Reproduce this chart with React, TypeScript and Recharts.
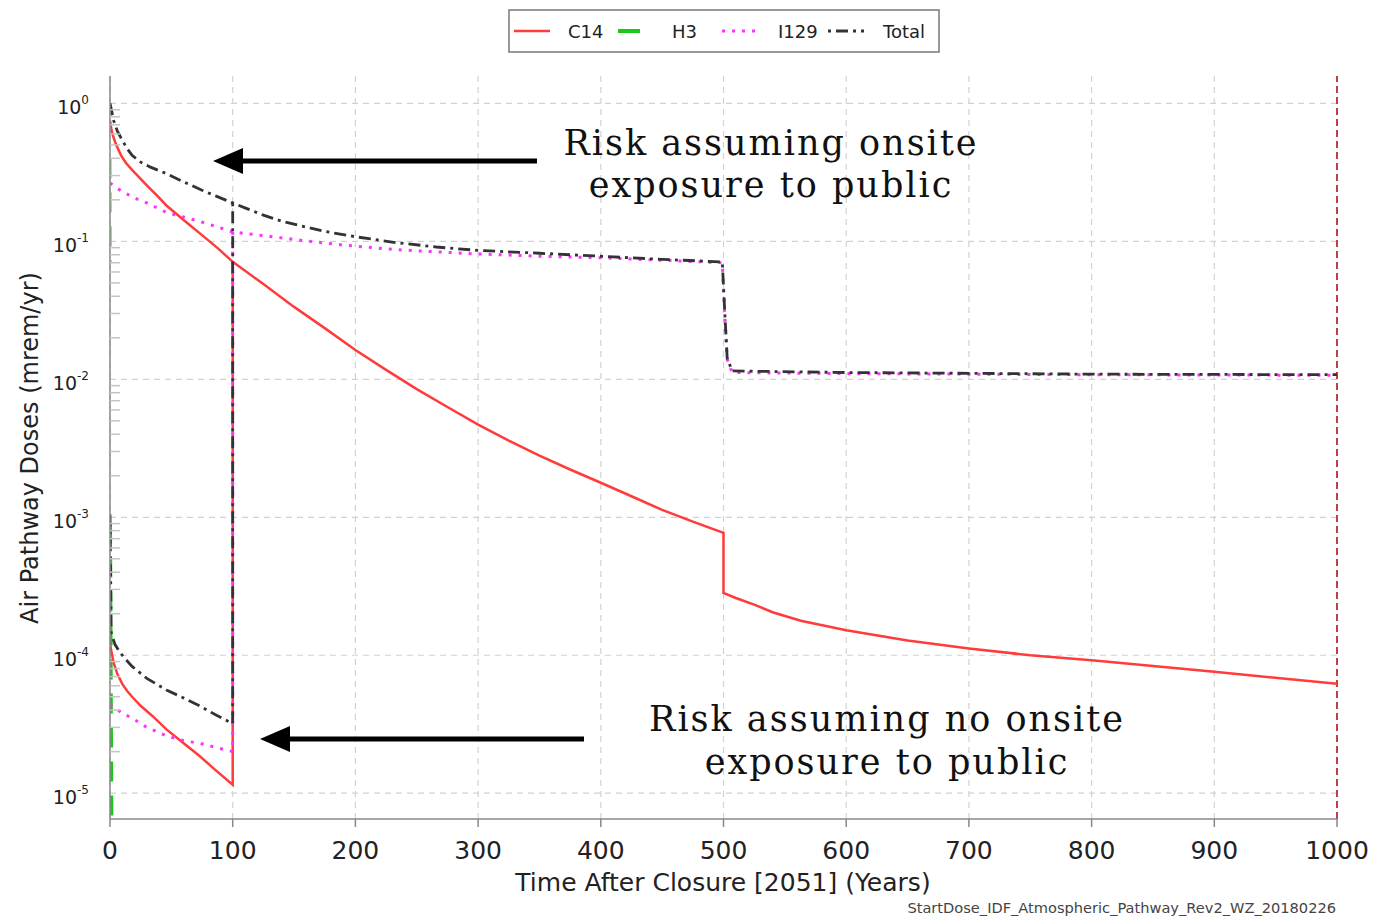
import React from "react";
import { LineChart, Line, XAxis, YAxis, CartesianGrid, ReferenceLine } from "recharts";

const SANS = "'DejaVu Sans', 'Liberation Sans', Arial, sans-serif";
const SERIF = "'DejaVu Serif', 'Liberation Serif', serif";

const xTicks = [0, 100, 200, 300, 400, 500, 600, 700, 800, 900, 1000];
const yMajor = [1e-5, 1e-4, 1e-3, 1e-2, 1e-1, 1];
const yExponents = ["-5", "-4", "-3", "-2", "-1", "0"];
const yMinorSteps = [2, 3, 4, 5, 6, 7, 8, 9];

// onsite exposure (upper family of curves)
const c14OnYears = [0, 1, 2, 4, 6, 9, 13, 18, 24, 30, 38, 46, 60, 75, 88, 100, 125, 150, 175, 200, 225, 250, 275, 300, 325, 350, 375, 400, 425, 450, 475, 500, 500, 510, 525, 540, 563, 600, 650, 700, 750, 800, 900, 1000];
const c14OnDose = [0.75, 0.66, 0.6, 0.53, 0.48, 0.42, 0.37, 0.33, 0.29, 0.255, 0.216, 0.182, 0.143, 0.111, 0.089, 0.071, 0.049, 0.0335, 0.0235, 0.0163, 0.0117, 0.0085, 0.0063, 0.0047, 0.0036, 0.0028, 0.00222, 0.00178, 0.00142, 0.00113, 0.00093, 0.00077, 0.000283, 0.00026, 0.000233, 0.000205, 0.000178, 0.000152, 0.000128, 0.000112, 0.0001, 0.000092, 0.000076, 0.000062];

const i129OnYears = [0, 5, 10, 20, 30, 46, 60, 75, 88, 100, 125, 155, 190, 233, 266, 300, 350, 400, 450, 499, 501, 503, 507, 600, 800, 1000];
const i129OnDose = [0.265, 0.245, 0.23, 0.206, 0.19, 0.162, 0.15, 0.138, 0.127, 0.117, 0.11, 0.102, 0.094, 0.087, 0.084, 0.081, 0.078, 0.076, 0.073, 0.07, 0.03, 0.014, 0.0112, 0.011, 0.0108, 0.0107];

const totalOnYears = [0, 3, 6, 10, 14, 18, 25, 33, 46, 60, 75, 88, 100, 110, 125, 140, 155, 175, 200, 233, 266, 300, 350, 400, 450, 499, 501, 503, 507, 600, 800, 1000];
const totalOnDose = [1.0, 0.75, 0.63, 0.54, 0.47, 0.42, 0.375, 0.345, 0.31, 0.27, 0.235, 0.21, 0.19, 0.175, 0.155, 0.14, 0.13, 0.118, 0.108, 0.098, 0.091, 0.086, 0.082, 0.078, 0.074, 0.071, 0.031, 0.0143, 0.0115, 0.0112, 0.0109, 0.0108];

const h3OnYears = [0, 0.3];
const h3OnDose = [0.4, 0.07];

// no onsite exposure (lower family, joins the upper curves at year 100)
const c14OffYears = [0, 3, 6, 10, 14, 18, 25, 35, 46, 60, 73, 86, 100, 100];
const c14OffDose = [0.00012, 0.000088, 0.000073, 0.000062, 0.000055, 0.00005, 0.000043, 0.000036, 0.000029, 0.000023, 0.0000186, 0.0000147, 0.0000115, 0.071];

const i129OffYears = [0, 5, 10, 18, 30, 46, 60, 73, 86, 100, 100];
const i129OffDose = [0.000044, 0.000041, 0.000038, 0.000035, 0.00003, 0.000026, 0.000024, 0.000023, 0.0000215, 0.00002, 0.117];

const totalOffYears = [0, 1, 4, 8, 12, 18, 30, 46, 60, 73, 86, 100, 100];
const totalOffDose = [0.00105, 0.000145, 0.00012, 0.000105, 0.000095, 0.000083, 0.000068, 0.000056, 0.000049, 0.000043, 0.000037, 0.000032, 0.19];

const h3OffYears = [0, 1.5];
const h3OffDose = [0.0009, 0.000001];

const pts = (years: number[], dose: number[]) => years.map((t, i) => ({ t, v: dose[i] }));

const C14 = "#ff3b3b";
const H3 = "#19c919";
const I129 = "#ff33ff";
const TOTAL = "#333333";

const series = [
  { id: "h3-on", data: pts(h3OnYears, h3OnDose), color: "#8fe08f", width: 3.5, dash: "20 14" },
  { id: "h3-off", data: pts(h3OffYears, h3OffDose), color: H3, width: 4, dash: "20 14" },
  { id: "c14-on", data: pts(c14OnYears, c14OnDose), color: C14, width: 2.5, dash: undefined },
  { id: "c14-off", data: pts(c14OffYears, c14OffDose), color: C14, width: 2.5, dash: undefined },
  { id: "i129-on", data: pts(i129OnYears, i129OnDose), color: I129, width: 3, dash: "3 7" },
  { id: "i129-off", data: pts(i129OffYears, i129OffDose), color: I129, width: 3, dash: "3 7" },
  { id: "total-on", data: pts(totalOnYears, totalOnDose), color: TOTAL, width: 2.8, dash: "12 5 3 5" },
  { id: "total-off", data: pts(totalOffYears, totalOffDose), color: TOTAL, width: 2.8, dash: "12 5 3 5" },
];

const yTicks = [...yMajor, ...yMajor.slice(0, 5).flatMap((d) => yMinorSteps.map((s) => d * s))].sort((a, b) => a - b);

const legendItems = [
  { label: "C14", color: C14, dash: undefined, width: 2.5, lineX: 6, textX: 60 },
  { label: "H3", color: H3, dash: undefined, width: 4, lineX: 110, textX: 164 },
  { label: "I129", color: I129, dash: "3 7", width: 3, lineX: 214, textX: 270 },
  { label: "Total", color: TOTAL, dash: "3 5 12 5", width: 2.8, lineX: 320, textX: 375 },
];

function YTick(props: any) {
  const { x, y, payload } = props;
  const idx = yMajor.indexOf(payload.value);
  if (idx < 0) {
    return <line x1={x + 10} x2={x + 20} y1={y} y2={y} stroke="#c4c4c4" strokeWidth={1.5} />;
  }
  return (
    <text x={x - 11} y={y + 11} textAnchor="end" fontFamily={SANS} fontSize={19} fill="#222">
      10
      <tspan dy={-10} fontSize={12}>
        {yExponents[idx]}
      </tspan>
    </text>
  );
}

function Legend() {
  return (
    <svg width={432} height={44} style={{ position: "absolute", left: 508, top: 9 }}>
      <rect x={1} y={1} width={430} height={42} fill="#fff" stroke="#777" strokeWidth={1.5} />
      {legendItems.map((it) => (
        <g key={it.label}>
          <line
            x1={it.lineX}
            x2={it.lineX + (it.label === "H3" ? 22 : 36)}
            y1={22}
            y2={22}
            stroke={it.color}
            strokeWidth={it.width}
            strokeDasharray={it.dash}
          />
          <text x={it.textX} y={28.5} fontFamily={SANS} fontSize={18} fill="#222">
            {it.label}
          </text>
        </g>
      ))}
    </svg>
  );
}

function Overlay() {
  return (
    <svg width={1375} height={917} style={{ position: "absolute", left: 0, top: 0, pointerEvents: "none" }}>
      <line x1={238} x2={537} y1={161} y2={161} stroke="#000" strokeWidth={5} />
      <polygon points="213,161 243,148 243,174" fill="#000" />
      <text fontFamily={SERIF} fontSize={35} letterSpacing={2} fill="#111" textAnchor="middle">
        <tspan x={771} y={155}>Risk assuming onsite</tspan>
        <tspan x={771} y={197}>exposure to public</tspan>
      </text>

      <line x1={285} x2={584} y1={739} y2={739} stroke="#000" strokeWidth={5} />
      <polygon points="260,739 290,726 290,752" fill="#000" />
      <text fontFamily={SERIF} fontSize={35} letterSpacing={2} fill="#111" textAnchor="middle">
        <tspan x={887} y={731}>Risk assuming no onsite</tspan>
        <tspan x={887} y={774}>exposure to public</tspan>
      </text>

      <text x={30} y={448} transform="rotate(-90 30 448)" textAnchor="middle" dominantBaseline="central" fontFamily={SANS} fontSize={24} fill="#222">
        Air Pathway Doses (mrem/yr)
      </text>
      <text x={723} y={891} textAnchor="middle" fontFamily={SANS} fontSize={25} fill="#222">
        Time After Closure [2051] (Years)
      </text>
      <text x={1336} y={913} textAnchor="end" fontFamily={SANS} fontSize={14.6} fill="#444">
        StartDose_IDF_Atmospheric_Pathway_Rev2_WZ_20180226
      </text>
    </svg>
  );
}

export default function App() {
  return (
    <div style={{ position: "absolute", left: 0, top: 0, width: 1375, height: 917, background: "#fff" }}>
      <LineChart width={1375} height={917} margin={{ top: 76, right: 38, left: 10, bottom: 38 }}>
        <CartesianGrid
          stroke="#d2d2d2"
          strokeDasharray="6 5"
          strokeWidth={1.2}
          horizontalValues={yMajor}
          verticalValues={xTicks}
        />
        <XAxis
          dataKey="t"
          type="number"
          domain={[0, 1000]}
          ticks={xTicks}
          allowDataOverflow
          height={60}
          stroke="#888"
          strokeWidth={1.5}
          tickSize={8}
          tickMargin={14}
          tick={{ fontFamily: SANS, fontSize: 25, fill: "#222" }}
        />
        <XAxis xAxisId="top" orientation="top" type="number" domain={[0, 1000]} height={0} tick={false} tickLine={false} stroke="#888" strokeWidth={1.5} />
        <YAxis
          dataKey="v"
          scale="log"
          type="number"
          domain={[6.5e-6, 1.58]}
          ticks={yTicks}
          allowDataOverflow
          width={100}
          stroke="#888"
          strokeWidth={1.5}
          tickLine={false}
          tickSize={0}
          tickMargin={10}
          interval={0}
          tick={<YTick />}
        />
        <YAxis yAxisId="right" orientation="right" width={0} tick={false} tickLine={false} stroke="#888" strokeWidth={1.5} />
        <ReferenceLine x={1000} stroke="#c0403f" strokeWidth={2} strokeDasharray="7 4" />
        {series.map((s) => (
          <Line
            key={s.id}
            data={s.data}
            dataKey="v"
            type="linear"
            stroke={s.color}
            strokeWidth={s.width}
            strokeDasharray={s.dash}
            dot={false}
            activeDot={false}
            isAnimationActive={false}
          />
        ))}
      </LineChart>
      <Legend />
      <Overlay />
    </div>
  );
}
